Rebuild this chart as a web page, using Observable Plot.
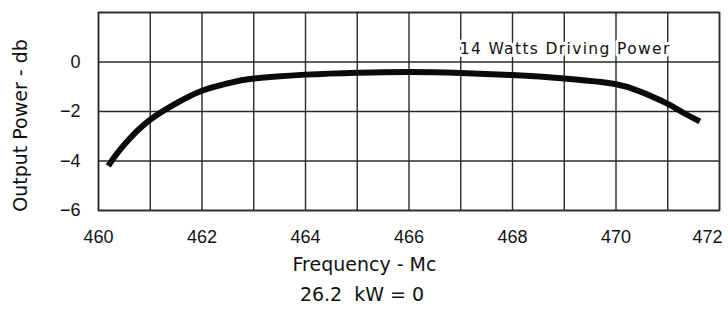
<!DOCTYPE html>
<html>
<head>
<meta charset="utf-8">
<script src="https://cdn.jsdelivr.net/npm/d3@7"></script>
<script src="https://cdn.jsdelivr.net/npm/@observablehq/plot@0.6"></script>
<style>
  html, body { margin: 0; padding: 0; background: #fff; }
  #chart svg { display: block; }
</style>
</head>
<body>
<div id="chart"></div>
<script>
// Frequency (Mc) and output power (db)
const frequency = [460.19, 460.35, 460.6, 461, 461.5, 462, 462.5, 463, 464, 465, 466, 467, 468, 469, 470, 470.5, 471, 471.3, 471.62];
const outputDb  = [-4.2, -3.72, -3.1, -2.33, -1.67, -1.16, -0.86, -0.67, -0.51, -0.43, -0.40, -0.44, -0.53, -0.67, -0.9, -1.22, -1.69, -2.05, -2.4];

const xTicks = [460, 462, 464, 466, 468, 470, 472];
const xGrid  = [460, 461, 462, 463, 464, 465, 466, 467, 468, 469, 470, 471, 472];
const yTicks = [-6, -4, -2, 0];
const yGrid  = [-6, -4, -2, 0, 2];

const xLabel = "Frequency - Mc";
const yLabel = "Output Power - db";
const referenceNote = "26.2  kW = 0";
const annotation = [{freq: 466.98, db: 0.52, label: "14 Watts Driving Power"}];

const data = frequency.map((f, i) => ({freq: f, db: outputDb[i]}));

const gridColor = "#2a2a2a";
const sans = "DejaVu Sans";
const tickFont = "Liberation Sans";

const chart = Plot.plot({
  width: 728,
  height: 313,
  marginLeft: 98,
  marginRight: 9,
  marginTop: 12,
  marginBottom: 103,
  style: {background: "#fff", color: "#000", fontFamily: tickFont},
  x: {domain: [460, 472]},
  y: {domain: [-6, 2]},
  marks: [
    Plot.gridX(xGrid, {stroke: gridColor, strokeOpacity: 1, strokeWidth: 1.4}),
    Plot.gridY(yGrid, {stroke: gridColor, strokeOpacity: 1, strokeWidth: 1.4}),
    Plot.frame({stroke: gridColor, strokeWidth: 1.6}),
    Plot.text(annotation, {
      x: "freq", y: "db", text: "label",
      textAnchor: "start", fontFamily: sans, fontSize: 15.5,
      fill: "#111", stroke: "#fff", strokeWidth: 6
    }),
    Plot.line(data, {
      x: "freq", y: "db", curve: "natural",
      stroke: "#0a0a0a", strokeWidth: 6, strokeLinecap: "butt"
    }),
    Plot.axisX(xTicks, {tickSize: 0, tickPadding: 20, fontSize: 18, fontFamily: tickFont, label: null, fill: "#111"}),
    Plot.axisY(yTicks, {tickSize: 0, tickPadding: 18, fontSize: 18, fontFamily: tickFont, label: null, fill: "#111"}),
    Plot.text([yLabel], {frameAnchor: "left", textAnchor: "middle", rotate: -90, dx: -78, dy: 14, fontSize: 19, fontFamily: sans, fill: "#111"}),
    Plot.text([xLabel], {frameAnchor: "bottom", textAnchor: "middle", dx: -44.5, dy: 60, fontSize: 19, fontFamily: sans, fill: "#111"}),
    Plot.text([referenceNote], {frameAnchor: "bottom", textAnchor: "middle", dx: -47, dy: 90, fontSize: 19, fontFamily: sans, fill: "#111"})
  ]
});

const sel = d3.select(chart);
// letter spacing for the in-plot annotation, as in the reference
sel.selectAll("text").filter(function() {
  return this.textContent === annotation[0].label;
}).attr("letter-spacing", "1.35px");
// last x tick label is pulled inside the picture, as in the reference
sel.selectAll("text").filter(function() {
  return this.textContent === String(xTicks[xTicks.length - 1]);
}).attr("dx", -12);

document.getElementById("chart").appendChild(chart);
</script>
</body>
</html>
